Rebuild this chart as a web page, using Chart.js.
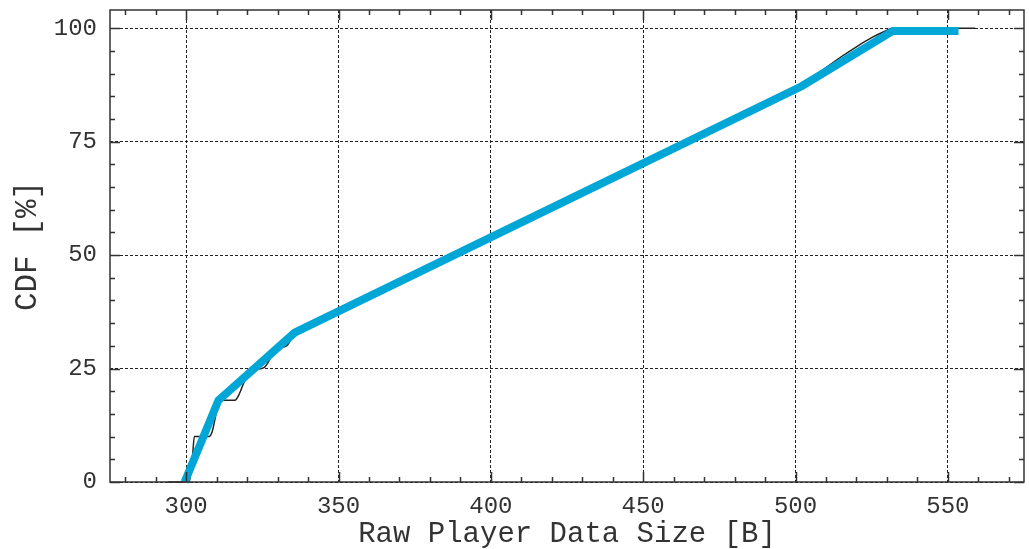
<!DOCTYPE html>
<html>
<head>
<meta charset="utf-8">
<script src="https://cdn.jsdelivr.net/npm/chart.js@4.4.1/dist/chart.umd.min.js"></script>
<style>
  html, body { margin: 0; padding: 0; background: #fff; }
</style>
</head>
<body>
<canvas id="cdfChart" width="1029" height="549"></canvas>
<script>
// measured CDF (thin black line)
var sizeMeasured = [294, 301, 302, 302.7, 307.5, 308.5, 309.5, 310.5, 311.5, 316, 317.5, 319, 320.5, 322, 325.5, 327, 328.5, 330, 333, 334.5, 336, 338, 341.5,
    345, 360, 380, 400, 420, 440, 460, 480, 502, 506, 510, 515, 520, 525, 529, 532, 559];
var cdfMeasured = [0, 0, 5, 10, 10, 11, 14, 17, 18, 18, 19.5, 22, 24, 24.7, 25.2, 26.5, 28.5, 29.5, 30, 31.5, 33, 33.6, 34.2,
    36.2, 41.2, 47.7, 54.2, 60.7, 67.3, 73.8, 80.3, 87.4, 89.3, 91.3, 93.7, 95.9, 97.9, 99.2, 100, 100];

// piecewise linear fit (thick blue line)
var sizeFit = [299.5, 310.6, 335.6, 502, 532, 553.5];
var cdfFit = [0, 18, 32.9, 87.2, 99.4, 99.4];

var xMajor = [300, 350, 400, 450, 500, 550];
var yMajor = [0, 25, 50, 75, 100];

function toPoints(xs, ys) {
    return xs.map(function (x, i) { return {x: x, y: ys[i]}; });
}

var monoFont = "'Liberation Mono', 'Courier New', monospace";
var axisColor = '#333';

// box + inward ticks on all four sides, like gnuplot
var frameTicks = {
    id: 'frameTicks',
    afterDatasetsDraw: function (chart) {
        var ctx = chart.ctx;
        var a = chart.chartArea;
        var xs = chart.scales.x, ys = chart.scales.y;
        ctx.save();
        ctx.strokeStyle = axisColor;
        ctx.lineWidth = 1.5;
        ctx.beginPath();
        for (var v = 280; v <= 570; v += 10) {
            var px = Math.round(xs.getPixelForValue(v)) + 0.5;
            var len = xMajor.indexOf(v) >= 0 ? 10 : 5;
            ctx.moveTo(px, a.bottom); ctx.lineTo(px, a.bottom - len);
            ctx.moveTo(px, a.top); ctx.lineTo(px, a.top + len);
        }
        for (var w = 0; w <= 100; w += 5) {
            var py = Math.round(ys.getPixelForValue(w)) + 0.5;
            var len2 = yMajor.indexOf(w) >= 0 ? 10 : 5;
            ctx.moveTo(a.left, py); ctx.lineTo(a.left + len2, py);
            ctx.moveTo(a.right, py); ctx.lineTo(a.right - len2, py);
        }
        ctx.stroke();
        ctx.strokeRect(a.left, a.top, a.right - a.left, a.bottom - a.top);
        ctx.restore();
    }
};

var cdfChart = new Chart(document.getElementById('cdfChart'), {
    type: 'line',
    data: {
        datasets: [{
            label: 'fit',
            data: toPoints(sizeFit, cdfFit),
            borderColor: '#00a6d6',
            borderWidth: 8,
            borderCapStyle: 'butt',
            borderJoinStyle: 'miter',
            pointRadius: 0,
            tension: 0,
            clip: false,
            order: 0
        }, {
            label: 'measured',
            data: toPoints(sizeMeasured, cdfMeasured),
            borderColor: '#222',
            borderWidth: 1.5,
            pointRadius: 0,
            cubicInterpolationMode: 'monotone',
            clip: false,
            order: 1
        }]
    },
    options: {
        responsive: false,
        animation: false,
        events: [],
        layout: {padding: {top: 10, right: 5, left: 0, bottom: 0}},
        plugins: {legend: {display: false}, tooltip: {enabled: false}},
        scales: {
            x: {
                type: 'linear',
                min: 275,
                max: 575,
                afterBuildTicks: function (s) {
                    s.ticks = xMajor.map(function (v) { return {value: v}; });
                },
                afterFit: function (s) { s.height = 67; s.paddingLeft = 0; s.paddingRight = 0; },
                grid: {color: '#222', lineWidth: 1, drawTicks: false},
                border: {display: false, dash: [3, 2]},
                ticks: {color: '#333', font: {family: monoFont, size: 24}, padding: 10, maxRotation: 0},
                title: {display: true, text: 'Raw Player Data Size [B]', color: '#333',
                    font: {family: monoFont, size: 29, lineHeight: 1}, padding: {top: 0, bottom: 0}}
            },
            y: {
                type: 'linear',
                min: 0,
                max: 104,
                afterBuildTicks: function (s) {
                    s.ticks = yMajor.map(function (v) { return {value: v}; });
                },
                afterFit: function (s) { s.width = 110; s.paddingTop = 0; s.paddingBottom = 0; },
                grid: {color: '#222', lineWidth: 1, drawTicks: false},
                border: {display: false, dash: [3, 2]},
                ticks: {color: '#333', font: {family: monoFont, size: 24}, padding: 13},
                title: {display: true, text: 'CDF [%]', color: '#333',
                    font: {family: monoFont, size: 31, lineHeight: 1}, padding: {top: 12, bottom: 0}}
            }
        }
    },
    plugins: [frameTicks]
});
</script>
</body>
</html>
